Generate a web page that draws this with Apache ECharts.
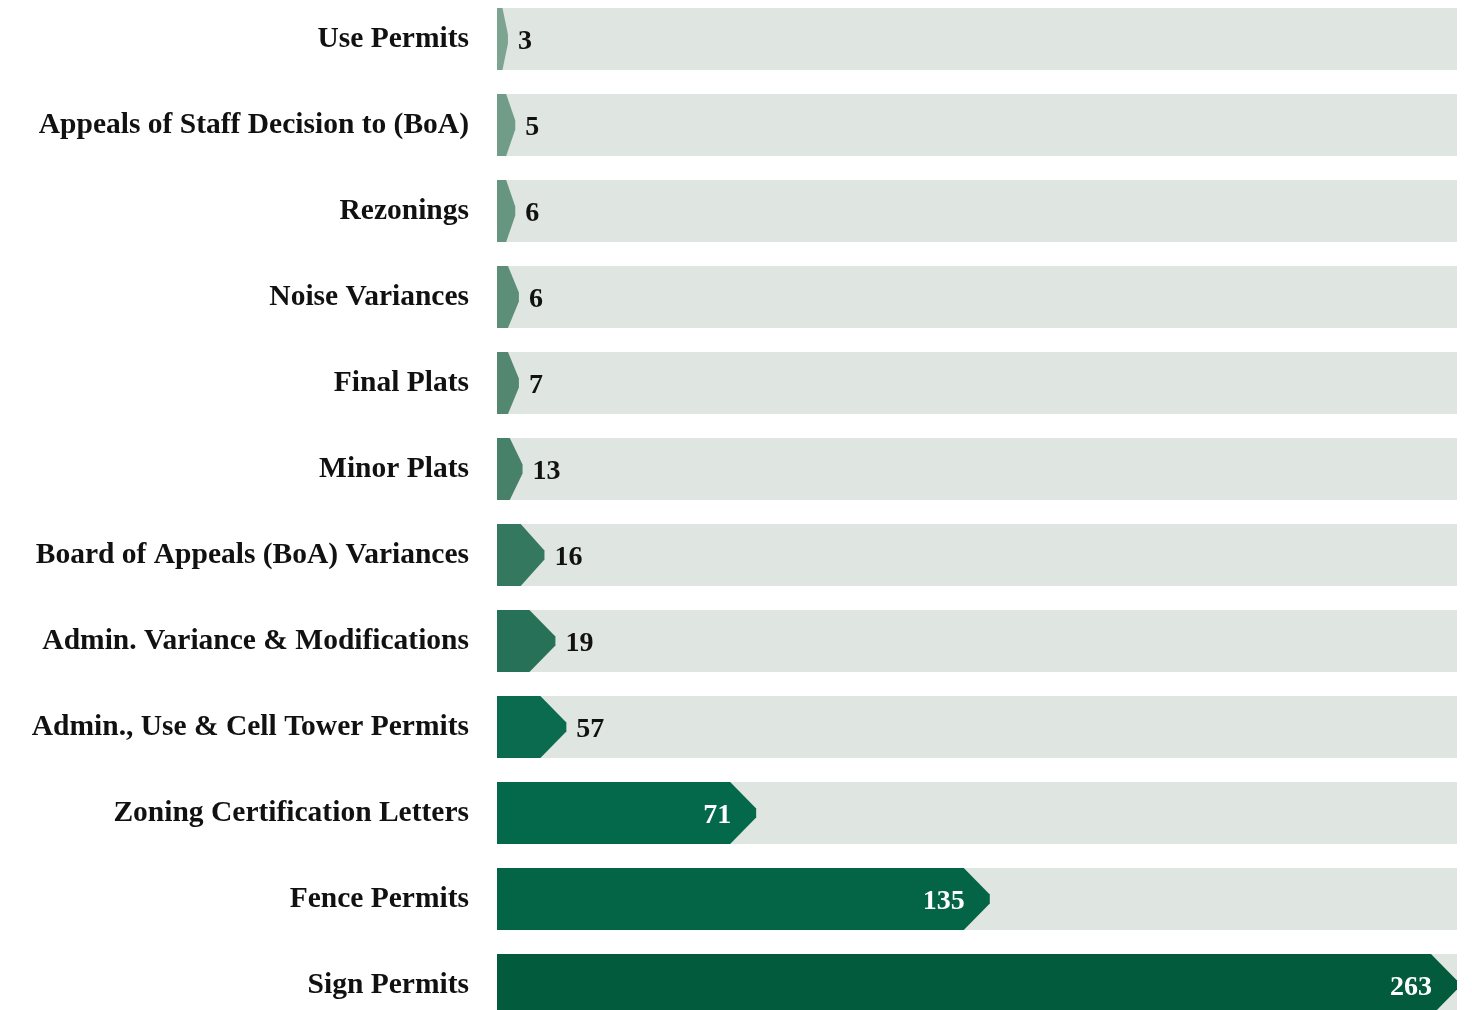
<!DOCTYPE html>
<html>
<head>
<meta charset="utf-8">
<script src="https://cdn.jsdelivr.net/npm/echarts@6/dist/echarts.min.js"></script>
<style>
html,body{margin:0;padding:0;background:#fff;overflow:hidden;width:1472px;height:1010px;}
#chart{position:absolute;left:0;top:-4px;width:1472px;height:1032px;}
</style>
</head>
<body>
<div id="chart"></div>
<script>
// Categories (top to bottom)
const categories = [
  "Use Permits",
  "Appeals of Staff Decision to (BoA)",
  "Rezonings",
  "Noise Variances",
  "Final Plats",
  "Minor Plats",
  "Board of Appeals (BoA) Variances",
  "Admin. Variance & Modifications",
  "Admin., Use & Cell Tower Permits",
  "Zoning Certification Letters",
  "Fence Permits",
  "Sign Permits"
];
// Drawn bar lengths as they appear in the picture
const barValues = [3, 5, 5, 6, 6, 7, 13, 16, 19, 71, 135, 263];
// Printed value labels
const labelValues = [3, 5, 6, 6, 7, 13, 16, 19, 57, 71, 135, 263];
const axisMax = 263;
const barColors = ["#7ca491", "#719d88", "#679680", "#5d8e78", "#538770", "#488169",
                   "#34795f", "#267157", "#0b6b4f", "#04694b", "#046446", "#035b3d"];

const chart = echarts.init(document.getElementById('chart'));
const data = categories.map((c, i) => [barValues[i], i, labelValues[i]]);

chart.setOption({
  animation: false,
  grid: { left: 497, right: 15, top: 0, bottom: 0, containLabel: false },
  xAxis: { type: 'value', min: 0, max: axisMax, show: false },
  yAxis: {
    type: 'category', data: categories, inverse: true,
    axisLine: { show: false }, axisTick: { show: false },
    axisLabel: {
      margin: 28, color: '#111', fontFamily: '"Liberation Serif", serif',
      fontWeight: 'bold', fontSize: 29.5, padding: [5, 0, 0, 0]
    }
  },
  series: [{
    type: 'custom',
    data: data,
    encode: { x: 0, y: 1 },
    renderItem: function (params, api) {
      const val = api.value(0), idx = api.value(1), lab = api.value(2);
      const s = api.coord([0, idx]);
      const e = api.coord([val, idx]);
      const f = api.coord([axisMax, idx]);
      const band = api.size([0, 1])[1];
      const h = band * 0.72;
      const cy = s[1];
      const top = cy - h / 2;
      const x0 = s[0];
      const w = e[0] - x0;
      const p = Math.min(26, w * 0.5);
      const t = 4.5;
      const tip = x0 + w;
      const inside = val >= 50;
      return {
        type: 'group',
        children: [
          { type: 'rect', shape: { x: x0, y: top, width: f[0] - x0, height: h },
            style: { fill: '#dfe5e1' } },
          { type: 'polygon', shape: { points: [
              [x0, top], [tip - p, top], [tip, cy - t], [tip, cy + t], [tip - p, top + h], [x0, top + h]
            ] }, style: { fill: barColors[idx] } },
          { type: 'text', style: {
              text: String(lab),
              x: inside ? tip - 25 : tip + 10, y: cy + 3,
              align: inside ? 'right' : 'left', verticalAlign: 'middle',
              fill: inside ? '#ffffff' : '#111111',
              font: 'bold 28px "Liberation Serif", serif'
            } }
        ]
      };
    }
  }]
});
</script>
</body>
</html>
